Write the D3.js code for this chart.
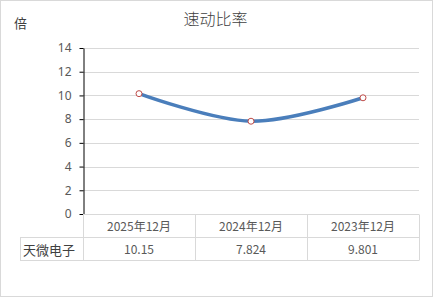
<!DOCTYPE html>
<html>
<head>
<meta charset="utf-8">
<script src="https://cdn.jsdelivr.net/npm/d3@7"></script>
<style>
  body { margin: 0; background: #fff; }
  svg { display: block; font-family: "Noto Sans CJK SC", "DejaVu Sans", sans-serif; }
</style>
</head>
<body>
<div id="chart"></div>
<script>
const categories = ["2025年12月", "2024年12月", "2023年12月"];
const values = [10.15, 7.824, 9.801];
const valueLabels = ["10.15", "7.824", "9.801"];
const seriesName = "天微电子";
const yTicks = [0, 2, 4, 6, 8, 10, 12, 14];

const ctx = {
    w: 433, h: 297,
    plot: {left: 83, right: 419, top: 48, bottom: 214},
    rowH: 23,
    labelLeft: 20,
    textColor: "#595959",
    gridColor: "#d9d9d9"
};

function drawChart() {
    let svg = d3.select("#chart").append("svg")
        .attr("width", ctx.w)
        .attr("height", ctx.h);

    // chart border
    svg.append("rect")
        .attr("x", 0.5).attr("y", 0.5)
        .attr("width", ctx.w - 1).attr("height", ctx.h - 1)
        .attr("fill", "#fff")
        .attr("stroke", ctx.gridColor);

    // title and unit
    svg.append("text")
        .attr("x", 215.5).attr("y", 25)
        .attr("text-anchor", "middle")
        .style("font-size", "16px")
        .style("font-weight", 300)
        .attr("fill", "#404040")
        .text("速动比率");
    svg.append("text")
        .attr("x", 14).attr("y", 28)
        .style("font-size", "13px")
        .attr("fill", "#404040")
        .text("倍");

    let x = d3.scaleBand()
        .domain(categories)
        .range([ctx.plot.left, ctx.plot.right]);
    let y = d3.scaleLinear()
        .domain([0, 14])
        .range([ctx.plot.bottom, ctx.plot.top]);

    // gridlines
    svg.append("g")
        .selectAll("line")
        .data(yTicks.filter(d => d > 0))
        .enter()
        .append("line")
        .attr("x1", ctx.plot.left).attr("x2", ctx.plot.right)
        .attr("y1", d => Math.round(y(d)) + 0.5)
        .attr("y2", d => Math.round(y(d)) + 0.5)
        .attr("stroke", ctx.gridColor);

    // y axis
    let yAxisG = svg.append("g")
        .attr("transform", "translate(" + (ctx.plot.left + 0.5) + ",0)")
        .call(d3.axisLeft(y).tickValues(yTicks).tickSize(4).tickPadding(8).tickSizeOuter(0));
    yAxisG.select(".domain").attr("stroke", "#000");
    yAxisG.selectAll(".tick line").attr("stroke", "#000");
    yAxisG.selectAll("text")
        .attr("fill", ctx.textColor)
        .style("font-size", "12px")
        .style("font-family", "'Noto Sans', 'DejaVu Sans', sans-serif");

    // data table
    let tableG = svg.append("g").attr("stroke", ctx.gridColor).attr("fill", "none");
    let rowTop = ctx.plot.bottom + 0.5;
    let rowMid = rowTop + ctx.rowH;
    let rowBot = rowMid + ctx.rowH;
    tableG.append("line").attr("x1", ctx.plot.left).attr("x2", ctx.plot.right).attr("y1", rowTop).attr("y2", rowTop);
    tableG.append("line").attr("x1", ctx.labelLeft).attr("x2", ctx.plot.right).attr("y1", rowMid).attr("y2", rowMid);
    tableG.append("line").attr("x1", ctx.labelLeft).attr("x2", ctx.plot.right).attr("y1", rowBot).attr("y2", rowBot);
    tableG.append("line").attr("x1", ctx.labelLeft + 0.5).attr("x2", ctx.labelLeft + 0.5).attr("y1", rowMid).attr("y2", rowBot);
    let colEdges = categories.map(c => x(c)).concat([ctx.plot.right]);
    tableG.selectAll(".col")
        .data(colEdges)
        .enter()
        .append("line")
        .attr("x1", d => Math.round(d) + 0.5).attr("x2", d => Math.round(d) + 0.5)
        .attr("y1", rowTop).attr("y2", rowBot);

    svg.append("g")
        .selectAll("text")
        .data(categories)
        .enter()
        .append("text")
        .attr("x", d => x(d) + x.bandwidth() / 2)
        .attr("y", rowTop + 16)
        .attr("text-anchor", "middle")
        .attr("fill", ctx.textColor)
        .style("font-size", "12px")
        .text(d => d);

    svg.append("g")
        .selectAll("text")
        .data(valueLabels)
        .enter()
        .append("text")
        .attr("x", (d, i) => x(categories[i]) + x.bandwidth() / 2)
        .attr("y", rowMid + 16)
        .attr("text-anchor", "middle")
        .attr("fill", ctx.textColor)
        .style("font-size", "12px")
        .text(d => d);

    svg.append("text")
        .attr("x", ctx.labelLeft + 3)
        .attr("y", rowMid + 17)
        .attr("fill", "#404040")
        .style("font-size", "13px")
        .text(seriesName);

    // line
    let points = values.map((v, i) => [x(categories[i]) + x.bandwidth() / 2, y(v)]);
    let lineGenerator = d3.line()
        .curve(d3.curveCatmullRom.alpha(0.5));
    svg.append("path")
        .attr("d", lineGenerator(points))
        .attr("fill", "none")
        .attr("stroke", "#4a7ebb")
        .attr("stroke-width", 3.5)
        .attr("stroke-linecap", "round");

    svg.append("g")
        .selectAll("circle")
        .data(points)
        .enter()
        .append("circle")
        .attr("cx", d => d[0])
        .attr("cy", d => d[1])
        .attr("r", 3)
        .attr("fill", "#fff")
        .attr("stroke", "#be4b48")
        .attr("stroke-width", 1);
}

drawChart();
</script>
</body>
</html>
